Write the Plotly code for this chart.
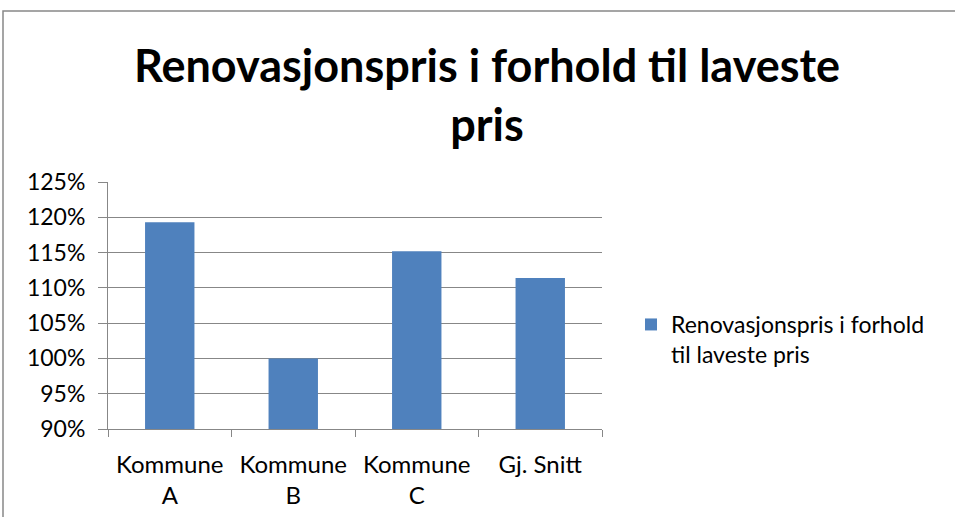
import plotly.graph_objects as go

# data
categories = ["Kommune<br>A", "Kommune<br>B", "Kommune<br>C", "Gj. Snitt"]
values = [1.193, 1.000, 1.152, 1.114]
series_name = "Renovasjonspris i forhold<br>til laveste pris"
y_ticks = [0.90, 0.95, 1.00, 1.05, 1.10, 1.15, 1.20, 1.25]

W, H = 955, 517
ML, MR, MT, MB = 108, 353, 182, 88
pw, ph = W - ML - MR, H - MT - MB

fig = go.Figure()
fig.add_trace(go.Bar(
    x=categories,
    y=values,
    name=series_name,
    marker_color="#4F81BD",
    marker_line_width=0,
    showlegend=True,
))

grid = "#878787"
fig.update_layout(
    width=W, height=H,
    margin=dict(l=ML, r=MR, t=MT, b=MB),
    paper_bgcolor="white",
    plot_bgcolor="white",
    font=dict(family="Lato, Open Sans, sans-serif", size=23, color="#000000"),
    title=dict(
        text="<b>Renovasjonspris i forhold til laveste<br>pris</b>",
        x=0.51, xanchor="center",
        y=1 - 82 / H, yanchor="top",
        font=dict(size=45),
    ),
    bargap=0.6,
    showlegend=True,
    legend=dict(
        x=(631 - ML) / pw, xanchor="left",
        y=(H - MB - 303) / ph, yanchor="top",
        valign="top",
        font=dict(size=23),
        itemwidth=30,
    ),
    xaxis=dict(
        type="category",
        showline=True, linecolor=grid, linewidth=1,
        ticks="outside", tickson="boundaries", ticklen=7, tickcolor=grid,
        showgrid=False,
        fixedrange=True,
        automargin=False,
        tickfont=dict(size=24),
        ticklabelstandoff=14,
    ),
    yaxis=dict(
        range=[0.90, 1.25],
        tickvals=y_ticks,
        tickformat=".0%",
        showline=True, linecolor=grid, linewidth=1,
        ticks="outside", ticklen=9, tickcolor=grid,
        showgrid=True, gridcolor=grid, gridwidth=1,
        zeroline=False,
        ticklabelstandoff=8,
        fixedrange=True,
        automargin=False,
    ),
    shapes=[dict(
        type="rect", xref="paper", yref="paper",
        x0=(3 - ML) / pw, x1=(W + 10 - ML) / pw,
        y0=(H - MB - (H + 10)) / ph, y1=(H - MB - 11) / ph,
        line=dict(color="#888888", width=1.5),
        fillcolor="rgba(0,0,0,0)",
        layer="below",
    )],
)

fig.write_html("out.html", config={"displayModeBar": False},
               post_script="document.body.style.margin='0';")
